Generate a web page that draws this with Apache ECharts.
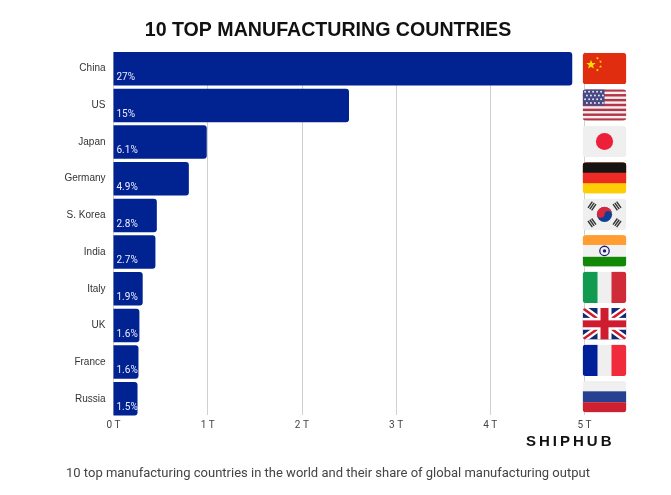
<!DOCTYPE html>
<html>
<head>
<meta charset="utf-8">
<style>html,body{margin:0;padding:0;background:#fff}#c{width:671px;height:495px}</style>
<script src="https://cdn.jsdelivr.net/npm/echarts@6/dist/echarts.min.js"></script>
</head>
<body>
<div id="c"></div>
<script>
const titleText = '10 TOP MANUFACTURING COUNTRIES';
const captionText = '10 top manufacturing countries in the world and their share of global manufacturing output';
const logoText = 'S\u2009H\u2009I\u2009P\u2009H\u2009U\u2009B';
const categories = ['China','US','Japan','Germany','S. Korea','India','Italy','UK','France','Russia'];
const outputTrillions = [4.87,2.5,0.99,0.8,0.46,0.445,0.31,0.275,0.265,0.255];
const shareLabels = ['27%','15%','6.1%','4.9%','2.8%','2.7%','1.9%','1.6%','1.6%','1.5%'];
const axisMax = 5;

const clip = inner => '<svg xmlns="http://www.w3.org/2000/svg" width="176" height="128" viewBox="0 0 44 32"><defs><clipPath id="r"><rect width="44" height="32" rx="4"/></clipPath></defs><g clip-path="url(#r)">' + inner + '</g></svg>';
const star = (cx,cy,r,rot) => {
  let p = [];
  for (let i=0;i<10;i++){const a=(rot+i*36-90)*Math.PI/180, q=i%2?r*0.42:r;p.push((cx+q*Math.cos(a)).toFixed(2)+','+(cy+q*Math.sin(a)).toFixed(2));}
  return '<polygon fill="#ffde00" points="'+p.join(' ')+'"/>';
};
const usStripes = (()=>{let s='<rect width="44" height="32" fill="#f4eeee"/>';for(let i=0;i<7;i++)s+='<rect y="'+(i*4.92).toFixed(2)+'" width="44" height="2.46" fill="#b5364a"/>';
  s+='<rect width="22" height="16.5" fill="#474a85"/>';
  for(let r=0;r<4;r++)for(let c=0;c<5;c++){s+='<circle cx="'+(2.6+c*4+(r%2?1.8:0)).toFixed(1)+'" cy="'+(2.6+r*3.8).toFixed(1)+'" r="0.95" fill="#eee"/>';}
  return s;})();
const tri = (cx,cy,rot) => {let s='<g transform="translate('+cx+' '+cy+') rotate('+rot+')" fill="#333">';for(let i=-1;i<=1;i++)s+='<rect x="-3.8" y="'+(i*2.2-0.7)+'" width="7.6" height="1.4"/>';return s+'</g>';};
const flagSvgs = {
  China: clip('<rect width="44" height="32" fill="#e02d10"/>'+star(8.5,12,5,0)+star(15,5.5,1.6,20)+star(18,9,1.6,40)+star(18,14,1.6,0)+star(15,17.5,1.6,20)),
  US: clip(usStripes),
  Japan: clip('<rect width="44" height="32" fill="#efeff0"/><circle cx="22" cy="16" r="8.6" fill="#ee2039"/>'),
  Germany: clip('<rect width="44" height="32" fill="#ffcd05"/><rect width="44" height="21.3" fill="#ee2a24"/><rect width="44" height="10.7" fill="#141414"/>'),
  'S. Korea': clip('<rect width="44" height="32" fill="#efeff0"/><circle cx="22" cy="16" r="7.6" fill="#0f3f94"/><path d="M14.4 15 A7.6 7.6 0 0 1 29.6 17 A3.8 3.8 0 0 0 22 16 A3.8 3.8 0 0 1 14.4 15Z" fill="#d8263a"/>'+tri(9.5,7.5,-55)+tri(34.5,7.5,55)+tri(9.5,24.5,55)+tri(34.5,24.5,-55)),
  India: clip('<rect width="44" height="32" fill="#f2f2f2"/><rect width="44" height="10" fill="#ff9d33"/><rect y="22" width="44" height="10" fill="#128807"/><circle cx="22" cy="16" r="4.7" fill="none" stroke="#1a1a7e" stroke-width="1.3"/><circle cx="22" cy="16" r="1.7" fill="#1a1a7e"/>'),
  Italy: clip('<rect width="44" height="32" fill="#efeff0"/><rect width="15" height="32" fill="#119a50"/><rect x="29" width="15" height="32" fill="#cf2b38"/>'),
  UK: clip('<rect width="44" height="32" fill="#12296f"/><path d="M0 0L44 32M44 0L0 32" stroke="#fff" stroke-width="7"/><path d="M0 0L44 32M44 0L0 32" stroke="#cf1c2f" stroke-width="2.5"/><rect x="15" width="14" height="32" fill="#fff"/><rect y="10" width="44" height="12" fill="#fff"/><rect x="18" width="8" height="32" fill="#cf1c2f"/><rect y="12.5" width="44" height="7" fill="#cf1c2f"/>'),
  France: clip('<rect width="44" height="32" fill="#efeff0"/><rect width="15" height="32" fill="#00209a"/><rect x="29" width="15" height="32" fill="#ef2b3c"/>'),
  Russia: clip('<rect width="44" height="32" fill="#f0f0f0"/><rect y="10.5" width="44" height="11" fill="#264190"/><rect y="21.5" width="44" height="10.5" fill="#cd2030"/>')
};
const flagUri = name => 'data:image/svg+xml;charset=utf-8,' + encodeURIComponent(flagSvgs[name]);

const chart = echarts.init(document.getElementById('c'), null, {renderer:'canvas'});
chart.setOption({
  animation:false,
  backgroundColor:'#fff',
  title:[
    {text:titleText,left:323,top:16,textAlign:'center',textStyle:{fontFamily:'Liberation Sans',fontWeight:'bold',fontSize:19.6,color:'#111'}},
    {text:captionText,left:61,top:462,textStyle:{fontFamily:'Roboto',fontWeight:'normal',fontSize:13,color:'#444'}},
    {text:logoText,left:521,top:429,textStyle:{fontFamily:'Liberation Sans',fontWeight:'bold',fontSize:15,color:'#111'}}
  ],
  grid:[
    {left:113.5,right:86.5,top:52,height:363},
    {left:113.5,right:86.5,top:50.4,height:366.7}
  ],
  xAxis:[
    {gridIndex:0,type:'value',min:0,max:axisMax,interval:1,
      axisLine:{show:false},axisTick:{show:false},
      splitLine:{lineStyle:{color:'#d0d0d0',width:1}},
      axisLabel:{formatter:v=>v+' T',fontFamily:'Roboto',fontSize:10,color:'#444',margin:5}},
    {gridIndex:1,type:'value',min:0,max:axisMax,interval:1,show:false}
  ],
  yAxis:[
    {gridIndex:0,type:'category',inverse:true,data:categories,show:false},
    {gridIndex:1,type:'category',inverse:true,data:categories,
      axisLine:{show:false},axisTick:{show:false},splitLine:{show:false},
      axisLabel:{fontFamily:'Liberation Sans',fontSize:10,color:'#333',margin:8}}
  ],
  series:[
    {type:'bar',xAxisIndex:1,yAxisIndex:1,data:outputTrillions,barWidth:33.5,
      itemStyle:{color:'#012391',borderRadius:[0,3,3,0]},
      label:{show:true,position:'insideBottomLeft',distance:2,offset:[1,-1],
        formatter:p=>shareLabels[p.dataIndex],fontFamily:'Roboto',fontSize:10,color:'#eef'}},
    {type:'custom',xAxisIndex:1,yAxisIndex:1,silent:true,z:5,clip:false,
      encode:{x:0,y:1},
      data:categories.map(c=>[axisMax,c]),
      renderItem:(params,api)=>{
        const pt=api.coord([axisMax,api.value(1)]);
        return {type:'image',style:{image:flagUri(categories[params.dataIndex]),x:pt[0]-2,y:pt[1]-16-0.2*params.dataIndex,width:44,height:31.6}};
      }}
  ]
});
</script>
</body>
</html>
